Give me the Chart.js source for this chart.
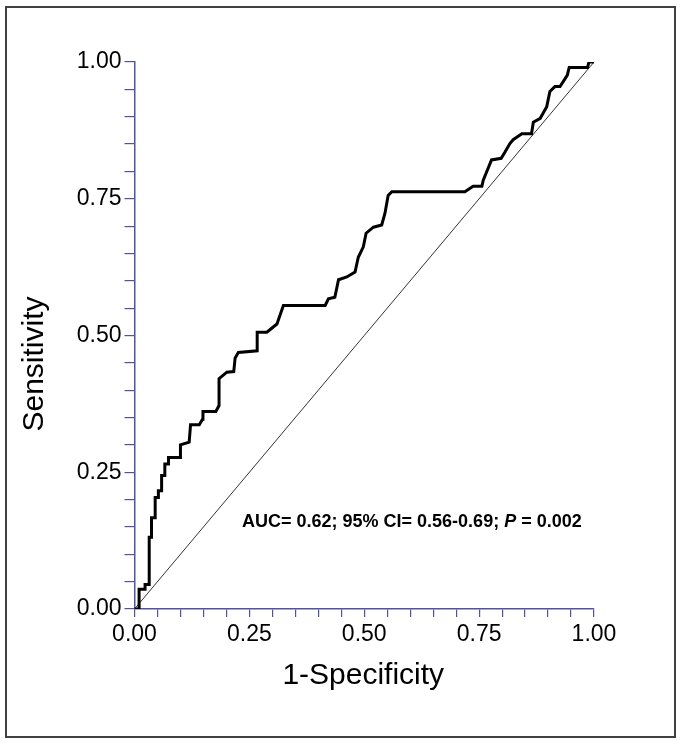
<!DOCTYPE html>
<html>
<head>
<meta charset="utf-8">
<script src="https://cdn.jsdelivr.net/npm/chart.js@4.4.1/dist/chart.umd.min.js"></script>
<style>
  html, body { margin: 0; padding: 0; background: #ffffff; }
  canvas { display: block; }
</style>
</head>
<body>
<canvas id="c" width="681" height="745"></canvas>
<script>
// ROC curve vertices (1-Specificity, Sensitivity)
const fpr = [0.000, 0.010, 0.010, 0.023, 0.023, 0.032, 0.032, 0.037, 0.037, 0.045,
             0.045, 0.052, 0.052, 0.059, 0.059, 0.066, 0.066, 0.074, 0.074, 0.100,
             0.100, 0.119, 0.122, 0.141, 0.148, 0.149, 0.177, 0.184, 0.184, 0.201,
             0.216, 0.219, 0.226, 0.267, 0.267, 0.288, 0.310, 0.324, 0.415, 0.422,
             0.436, 0.444, 0.462, 0.480, 0.487, 0.498, 0.504, 0.520, 0.538, 0.545,
             0.552, 0.560, 0.719, 0.737, 0.756, 0.759, 0.777, 0.798, 0.806, 0.817,
             0.824, 0.843, 0.864, 0.868, 0.883, 0.891, 0.897, 0.904, 0.915, 0.926,
             0.933, 0.942, 0.946, 0.986, 0.989, 1.000];
const tpr = [0.000, 0.000, 0.036, 0.036, 0.045, 0.045, 0.131, 0.131, 0.167, 0.167,
             0.204, 0.204, 0.216, 0.216, 0.244, 0.244, 0.265, 0.265, 0.277, 0.277,
             0.300, 0.305, 0.337, 0.337, 0.347, 0.361, 0.361, 0.372, 0.421, 0.433,
             0.434, 0.459, 0.469, 0.472, 0.506, 0.506, 0.521, 0.555, 0.555, 0.567,
             0.570, 0.602, 0.607, 0.616, 0.643, 0.662, 0.687, 0.698, 0.702, 0.723,
             0.756, 0.763, 0.763, 0.773, 0.773, 0.784, 0.821, 0.824, 0.835, 0.851,
             0.858, 0.869, 0.869, 0.890, 0.897, 0.909, 0.918, 0.946, 0.955, 0.955,
             0.964, 0.976, 0.990, 0.990, 1.000, 1.000];
// Reference (chance) line
const refX = [0, 1];
const refY = [0, 1];
// Axis ticks
const tickStep = 0.05;
const labelStep = 0.25;
const xTitle = '1-Specificity';
const yTitle = 'Sensitivity';
const noteMain = 'AUC= 0.62; 95% CI= 0.56-0.69; ';
const noteP = 'P';
const noteEnd = ' = 0.002';

const FONT = "'Liberation Sans', Arial, Helvetica, sans-serif";
const AXIS_COLOR = '#5252a3';

const rocPoints = fpr.map((x, i) => ({ x: x, y: tpr[i] }));
const refPoints = refX.map((x, i) => ({ x: x, y: refY[i] }));

function tickLabel(v) {
  const q = v / labelStep;
  if (Math.abs(q - Math.round(q)) < 1e-6) return (Math.round(q) * labelStep).toFixed(2);
  return '';
}

const decorPlugin = {
  id: 'decor',
  beforeDraw(chart) {
    const ctx = chart.ctx;
    ctx.save();
    ctx.fillStyle = '#ffffff';
    ctx.fillRect(0, 0, chart.width, chart.height);
    ctx.restore();
  },
  afterDraw(chart) {
    const ctx = chart.ctx;
    ctx.save();
    // outer frame
    ctx.strokeStyle = '#404040';
    ctx.lineWidth = 2;
    ctx.strokeRect(6, 7, 669, 730);
    // axis titles
    ctx.fillStyle = '#000000';
    ctx.font = '30px ' + FONT;
    ctx.textAlign = 'center';
    ctx.textBaseline = 'alphabetic';
    const xs = chart.scales.x;
    ctx.fillText(xTitle, (xs.left + xs.right) / 2 - 1, 684);
    ctx.save();
    ctx.translate(43, 364);
    ctx.rotate(-Math.PI / 2);
    ctx.fillText(yTitle, 0, 0);
    ctx.restore();
    // annotation
    let x = 242;
    const y = 527;
    ctx.textAlign = 'left';
    ctx.font = 'bold 18px ' + FONT;
    ctx.fillText(noteMain, x, y);
    x += ctx.measureText(noteMain).width;
    ctx.font = 'italic bold 18px ' + FONT;
    ctx.fillText(noteP, x, y);
    x += ctx.measureText(noteP).width;
    ctx.font = 'bold 18px ' + FONT;
    ctx.fillText(noteEnd, x, y);
    ctx.restore();
  }
};

new Chart(document.getElementById('c'), {
  type: 'scatter',
  data: {
    datasets: [
      {
        data: refPoints,
        showLine: true,
        borderColor: '#333333',
        borderWidth: 1,
        pointRadius: 0,
        tension: 0,
        order: 2
      },
      {
        data: rocPoints,
        showLine: true,
        borderColor: '#000000',
        borderWidth: 3,
        pointRadius: 0,
        tension: 0,
        borderJoinStyle: 'miter',
        order: 1
      }
    ]
  },
  options: {
    responsive: false,
    animation: false,
    devicePixelRatio: 1,
    layout: { padding: { left: 8, right: 87, top: 62, bottom: 10 } },
    plugins: {
      legend: { display: false },
      tooltip: { enabled: false }
    },
    scales: {
      x: {
        type: 'linear',
        min: 0,
        max: 1,
        afterFit(s) { s.height = 126; },
        border: { display: true, color: AXIS_COLOR, width: 1.5 },
        grid: { display: true, drawOnChartArea: false, drawTicks: true, tickLength: 8, color: AXIS_COLOR, lineWidth: 1.2 },
        ticks: {
          stepSize: tickStep,
          maxTicksLimit: 100,
          autoSkip: false,
          maxRotation: 0,
          padding: 4,
          color: '#000000',
          font: { family: FONT, size: 23 },
          callback: tickLabel
        },
        title: { display: false }
      },
      y: {
        type: 'linear',
        min: 0,
        max: 1,
        afterFit(s) { s.width = 126.5; },
        border: { display: true, color: AXIS_COLOR, width: 1.5 },
        grid: { display: true, drawOnChartArea: false, drawTicks: true, tickLength: 10, color: AXIS_COLOR, lineWidth: 1.2 },
        ticks: {
          stepSize: tickStep,
          maxTicksLimit: 100,
          autoSkip: false,
          padding: 3,
          color: '#000000',
          font: { family: FONT, size: 23 },
          callback: tickLabel
        },
        title: { display: false }
      }
    }
  },
  plugins: [decorPlugin]
});
</script>
</body>
</html>
